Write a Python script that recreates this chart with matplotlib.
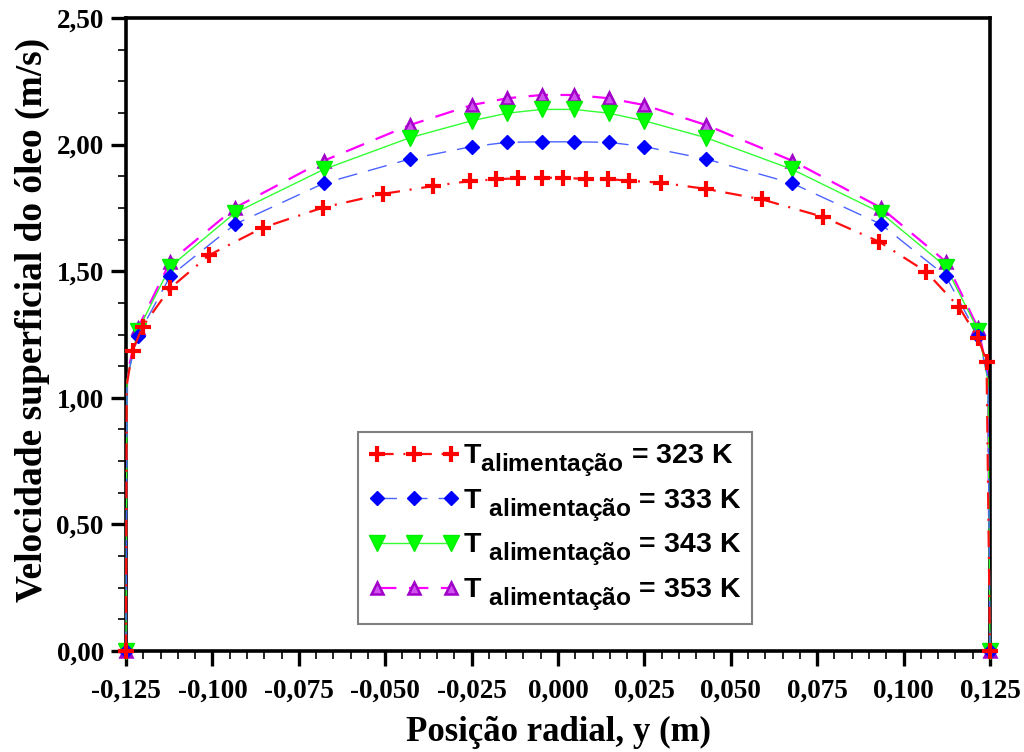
import matplotlib
matplotlib.use("Agg")
import matplotlib.pyplot as plt
from matplotlib.ticker import MultipleLocator, FuncFormatter
import matplotlib._mathtext as _mt

_mt.SHRINK_FACTOR = 0.86
_mt.FontConstantsBase.sub1 = 0.55
plt.rcParams['lines.scale_dashes'] = False
plt.rcParams['mathtext.fontset'] = 'custom'
plt.rcParams['mathtext.rm'] = 'Liberation Sans:bold'
plt.rcParams['mathtext.it'] = 'Liberation Sans:bold'
plt.rcParams['mathtext.bf'] = 'Liberation Sans:bold'

# ---- data ----
x_323 = [-0.125, -0.1248, -0.1231, -0.1202, -0.1123, -0.1009, -0.0854, -0.0681, -0.0507,
         -0.0363, -0.0255, -0.0179, -0.0117, -0.0047, 0.0015, 0.0081, 0.0146, 0.0206,
         0.0297, 0.0427, 0.0589, 0.0766, 0.0930, 0.1065, 0.1161, 0.1216, 0.1240, 0.125]
v_323 = [0.0, 1.05, 1.186, 1.281, 1.432, 1.564, 1.672, 1.751, 1.805,
         1.836, 1.856, 1.863, 1.867, 1.869, 1.869, 1.864, 1.864, 1.857,
         1.850, 1.825, 1.784, 1.715, 1.616, 1.498, 1.357, 1.235, 1.143, 0.0]
mark_323 = [True, False] + [True] * 26

x_pos = [-0.125, -0.1247, -0.1216, -0.1122, -0.0934, -0.0678, -0.0429, -0.025, -0.0147, -0.0047,
         0.0047, 0.0147, 0.025, 0.0429, 0.0678, 0.0934, 0.1122, 0.1216, 0.1244, 0.125]
v_333 = [0.0, 1.08, 1.244, 1.481, 1.686, 1.847, 1.943, 1.992, 2.009, 2.011,
         2.011, 2.009, 1.992, 1.943, 1.847, 1.686, 1.481, 1.244, 1.08, 0.0]
v_343 = [0.0, 1.07, 1.265, 1.518, 1.731, 1.902, 2.027, 2.094, 2.124, 2.139,
         2.139, 2.124, 2.094, 2.027, 1.902, 1.731, 1.518, 1.265, 1.07, 0.0]
v_353 = [0.0, 1.09, 1.274, 1.538, 1.751, 1.936, 2.077, 2.156, 2.183, 2.196,
         2.196, 2.183, 2.156, 2.077, 1.936, 1.751, 1.538, 1.274, 1.09, 0.0]
mark_pos = [True, False] + [True] * 16 + [False, True]

labels = [r"T$_{\mathrm{alimentação}}$ = 323 K",
          r"T $_{\mathrm{alimentação}}$ = 333 K",
          r"T $_{\mathrm{alimentação}}$ = 343 K",
          r"T $_{\mathrm{alimentação}}$ = 353 K"]

fig = plt.figure(figsize=(10.24, 7.52), dpi=100)
ax = fig.add_axes([126 / 1024, 1 - 651 / 752, 864 / 1024, 633 / 752])

l4, = ax.plot(x_pos, v_353, color='#ff00ff', lw=1.6, dashes=(14, 9),
              marker='^', ms=9, mfc='#d050f0', mec='#a000c8', mew=1.8,
              markevery=mark_pos, zorder=2, clip_on=False, label=labels[3])
l3, = ax.plot(x_pos, v_343, color='#33ff33', lw=1.0, ls='-',
              marker='v', ms=11, mfc='#00ff00', mec='#00ee00', mew=1,
              markevery=mark_pos, zorder=3, clip_on=False, label=labels[2])
l2, = ax.plot(x_pos, v_333, color='#4a63ff', lw=1.0, dashes=(14, 8),
              marker='D', ms=7.5, mfc='#0000ff', mec='#0000ff', mew=1,
              markevery=mark_pos, zorder=4, clip_on=False, label=labels[1])
l1, = ax.plot(x_323, v_323, color='#ff1010', lw=1.6, dashes=(12, 7, 1.5, 7),
              marker='+', ms=12, mec='#ff0000', mew=3,
              markevery=mark_323, zorder=5, clip_on=False, label=labels[0])

ax.set_xlim(-0.125, 0.125)
ax.set_ylim(0, 2.5)

ax.xaxis.set_major_locator(MultipleLocator(0.025))
ax.xaxis.set_minor_locator(MultipleLocator(0.005))
ax.yaxis.set_major_locator(MultipleLocator(0.5))
ax.yaxis.set_minor_locator(MultipleLocator(0.125))


def fmt_x(v, pos):
    if abs(v) < 1e-9:
        v = 0.0
    return f"{v:.3f}".replace('.', ',')


def fmt_y(v, pos):
    return f"{v:.2f}".replace('.', ',')


ax.xaxis.set_major_formatter(FuncFormatter(fmt_x))
ax.yaxis.set_major_formatter(FuncFormatter(fmt_y))

for s in ax.spines.values():
    s.set_linewidth(2.6)
ax.tick_params(which='major', direction='out', length=11, width=2.4,
               top=False, right=False)
ax.tick_params(axis='x', which='major', pad=9)
ax.tick_params(axis='y', which='major', pad=5)
ax.tick_params(which='minor', direction='out', length=6, width=1.2,
               top=False, right=False)
for lab in ax.get_xticklabels() + ax.get_yticklabels():
    lab.set_fontfamily('Liberation Serif')
    lab.set_fontweight('bold')
    lab.set_fontsize(19.5)

ax.set_xlabel("Posição radial, y (m)", fontfamily='Liberation Serif',
              fontweight='bold', fontsize=25, labelpad=9)
ax.set_ylabel("Velocidade superficial do óleo (m/s)", fontfamily='Liberation Serif',
              fontweight='bold', fontsize=27)
ax.yaxis.set_label_coords(-0.088, 0.523)

leg = ax.legend(handles=[l1, l2, l3, l4], loc='upper left',
                bbox_to_anchor=(0.2685, 0.346), borderaxespad=0,
                numpoints=3, handlelength=3.2, handletextpad=0.1,
                labelspacing=0.3, borderpad=0.38, fancybox=False,
                framealpha=1, edgecolor='#808080',
                prop={'family': 'Liberation Sans', 'weight': 'bold', 'size': 20.5})
leg.get_frame().set_linewidth(1.5)
for h in leg.legend_handles:
    h.set_markevery(None)

fig.savefig("out.png", dpi=100)
